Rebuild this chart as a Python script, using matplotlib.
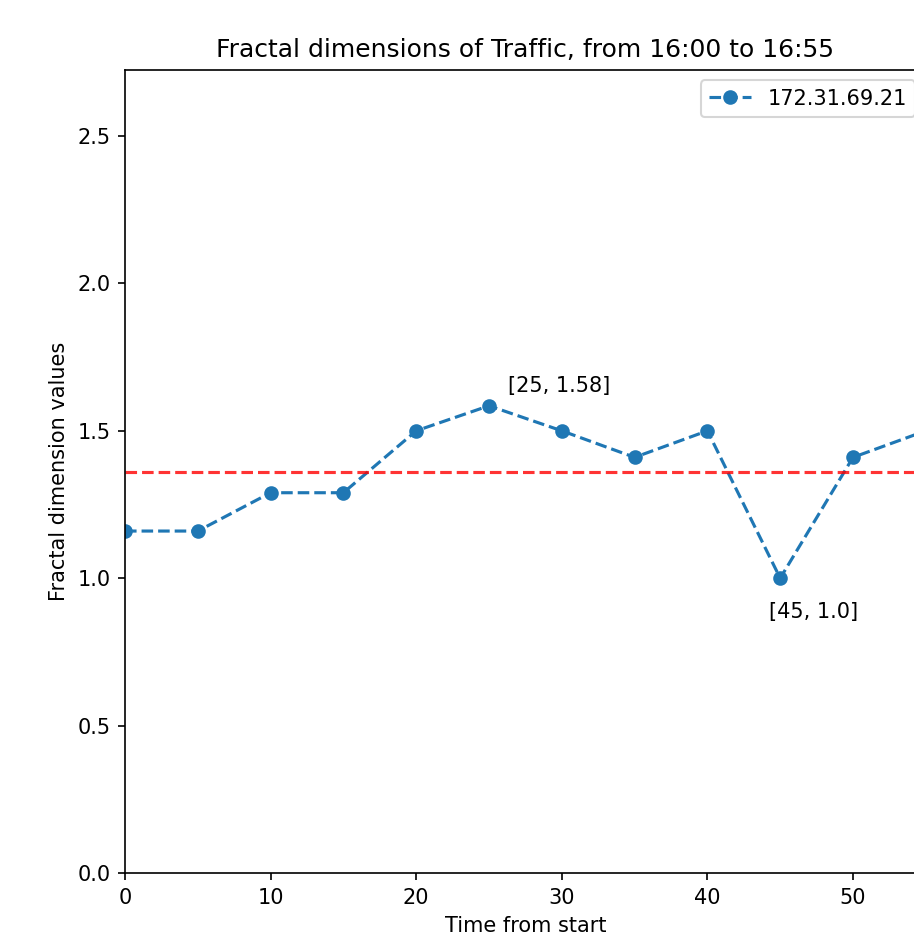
import matplotlib
matplotlib.use("Agg")
import matplotlib.pyplot as plt
import numpy as np

times = [0, 5, 10, 15, 20, 25, 30, 35, 40, 45, 50, 55]
fractal_values = [1.16, 1.16, 1.29, 1.29, 1.5, 1.585, 1.5, 1.41, 1.5, 1.0, 1.41, 1.5]
series_label = "172.31.69.21"
title = "Fractal dimensions of Traffic, from 16:00 to 16:55"
mean_value = float(np.mean(fractal_values))

DPI = 150
fig = plt.figure(figsize=(914 / DPI, 937 / DPI), dpi=DPI)
ax = fig.add_axes([125 / 914, 1 - 873 / 937, (925.8 - 125) / 914, (873 - 70) / 937])

ax.plot(times, fractal_values, "o--", color="#1f77b4", label=series_label)
ax.axhline(mean_value, color="red", linestyle="--", alpha=0.8)

i_max = int(np.argmax(fractal_values))
i_min = int(np.argmin(fractal_values))
ax.text(times[i_max] + 1.3, fractal_values[i_max] + 0.047,
        f"[{times[i_max]}, {round(fractal_values[i_max], 2)}]")
ax.text(times[i_min] - 0.8, fractal_values[i_min] - 0.135,
        f"[{times[i_min]}, {round(fractal_values[i_min], 2)}]")

ax.set_xlim(0, 55)
ax.set_ylim(0, 2.724)
ax.set_xticks([0, 10, 20, 30, 40, 50])
ax.set_yticks([0.0, 0.5, 1.0, 1.5, 2.0, 2.5])
ax.set_xlabel("Time from start")
ax.set_ylabel("Fractal dimension values")
ax.set_title(title)
ax.legend(loc="upper right")

fig.savefig("out.png", dpi=DPI)
